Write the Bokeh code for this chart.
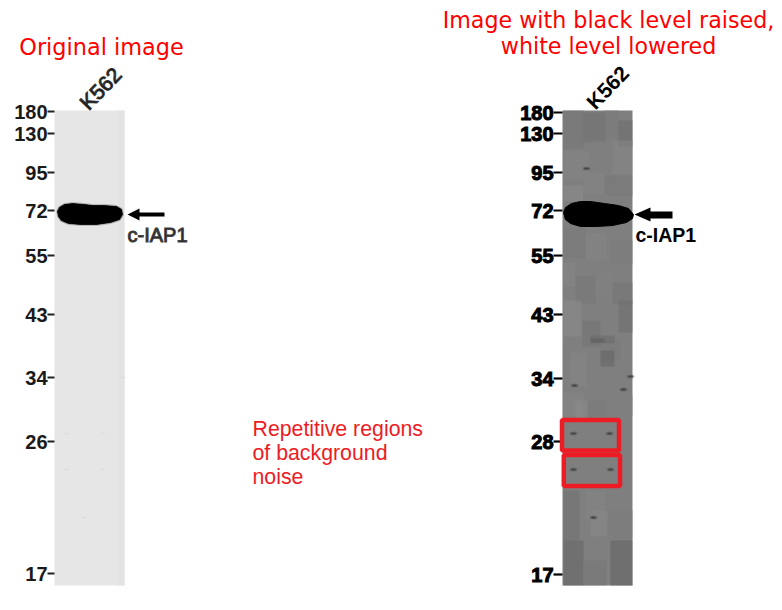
from bokeh.plotting import figure
from bokeh.models import Range1d
from bokeh.core.properties import value
from bokeh.embed import file_html
from bokeh.resources import INLINE

# ---- chart content -------------------------------------------------------
left_labels = ["180", "130", "95", "72", "55", "43", "34", "26", "17"]
left_mw_y = [111, 133, 172, 210, 255, 314, 377, 441, 573]
right_labels = ["180", "130", "95", "72", "55", "43", "34", "28", "17"]
right_mw_y = [112, 133, 172, 210, 255, 314, 378, 441, 574]
lane_name = "K562"
band_name = "c-IAP1"

left_band_x = [57, 59, 64, 72, 84, 92, 104, 116, 121, 122, 119, 110, 96, 80, 68, 61, 58]
left_band_y = [211, 207, 204, 203, 204, 205, 205, 206, 209, 214, 219, 222, 224, 224, 223, 220, 216]
right_band_x = [563, 565, 571, 580, 590, 604, 618, 628, 633, 632, 626, 612, 596, 580, 570, 565]
right_band_y = [212, 207, 203, 201, 201, 203, 205, 208, 214, 218, 222, 225, 226, 226, 223, 219]

# background noise of the enhanced lane: x, y, w, h, grey
noise_x = [563, 583, 604, 618, 563, 590, 612, 563, 583, 604, 563, 585, 610, 563, 575, 595, 612,
           563, 582, 600, 618, 570, 590, 563, 582, 607, 590, 600, 575, 585, 563, 590, 607, 563, 582, 610]
noise_y = [110, 112, 110, 120, 150, 140, 140, 185, 172, 175, 228, 232, 240, 262, 275, 270, 282,
           300, 320, 340, 300, 352, 335, 392, 400, 395, 338, 350, 400, 490, 490, 510, 510, 540, 560, 540]
noise_w = [20, 22, 14, 14, 26, 18, 20, 20, 22, 28, 22, 22, 22, 12, 20, 18, 20,
           18, 18, 20, 14, 16, 24, 20, 24, 25, 14, 14, 12, 20, 16, 18, 25, 20, 24, 22]
noise_h = [38, 30, 28, 26, 30, 40, 34, 16, 22, 20, 30, 28, 24, 24, 28, 24, 22,
           36, 26, 20, 32, 34, 8, 24, 18, 20, 4, 16, 18, 30, 50, 26, 28, 45, 25, 45]
noise_c = ["#767676", "#6f6f6f", "#7a7a7a", "#6c6c6c", "#848484", "#7e7e7e", "#868686",
           "#8a8a8a", "#848484", "#787878", "#797979", "#838383", "#7c7c7c", "#868686",
           "#777777", "#808080", "#747474", "#8b8b8b", "#737373", "#7a7a7a", "#6e6e6e",
           "#858585", "#6a6a6a", "#858585", "#7a7a7a", "#7f7f7f", "#5e5e5e", "#666666",
           "#8c8c8c", "#838383", "#727272", "#878787", "#7b7b7b", "#666666", "#777777", "#646464"]
speck_x = [573, 609, 573, 610, 593, 630, 623, 574, 586]
speck_y = [433, 433, 469, 469, 517, 376, 389, 385, 168]
faint_x = [66, 102, 66, 102, 84, 122]
faint_y = [433, 433, 469, 469, 517, 377]

# ---- page ----------------------------------------------------------------
p = figure(width=780, height=606, output_backend="svg", toolbar_location=None,
           x_range=Range1d(0, 780), y_range=Range1d(606, 0),
           min_border=0, outline_line_color=None, background_fill_color="white")
p.axis.visible = False
p.grid.visible = False

MARK = value("Liberation Sans")

# left lane
p.quad(left=[54], right=[124], top=[110], bottom=[585], fill_color="#e6e6e6", line_color=None)
p.quad(left=[118], right=[124], top=[110], bottom=[585], fill_color="#e3e3e3", line_color=None)
p.ellipse(faint_x, faint_y, width=6, height=2, fill_color="#dedede", line_color=None)
p.patch(left_band_x, left_band_y, fill_color="#000000", line_color="#000000", line_alpha=0.2, line_width=3)
p.patch(left_band_x, left_band_y, fill_color="#000000", line_color="#000000", line_alpha=0.6, line_width=1.2)

# right lane
p.quad(left=[562], right=[632], top=[110], bottom=[585], fill_color="#7f7f7f", line_color=None)
p.quad(left=noise_x, right=[a + b for a, b in zip(noise_x, noise_w)],
       top=noise_y, bottom=[a + b for a, b in zip(noise_y, noise_h)],
       fill_color=noise_c, fill_alpha=0.6, line_color=None)
p.ellipse(speck_x, speck_y, width=8, height=4, fill_color="#4c4c4c", fill_alpha=0.4, line_color=None)
p.ellipse(speck_x, speck_y, width=5, height=2, fill_color="#444444", line_color=None)
p.patch(right_band_x, right_band_y, fill_color="#000000", line_color="#000000", line_width=1)

# molecular weight ticks
p.segment(x0=[47] * 9, x1=[54] * 9, y0=left_mw_y, y1=left_mw_y, line_color="#222222", line_width=1.8)
p.segment(x0=[553] * 9, x1=[562] * 9, y0=right_mw_y, y1=right_mw_y, line_color="#000000", line_width=2.2)
p.text([47] * 9, left_mw_y, text=left_labels, text_font=MARK, text_font_size="20px", text_font_style="bold",
       text_color="#1a1a1a", text_align="right", text_baseline="middle")
p.text([553] * 9, right_mw_y, text=right_labels, text_font=MARK, text_font_size="20px", text_font_style="bold",
       text_color="#000000", text_align="right", text_baseline="middle",
       outline_color="#000000")

# lane names
p.text([100], [88], text=[lane_name], text_font=MARK, text_font_size="21px", text_color="#111111",
       angle=0.8, text_align="center", text_baseline="middle", outline_color="#333333")
p.text([607], [87], text=[lane_name], text_font=MARK, text_font_size="21px", text_font_style="bold",
       text_color="#000000", angle=0.8, text_align="center", text_baseline="middle")

# arrows
p.patch([127, 139, 139, 164, 164, 139, 139], [214, 208, 212, 212, 216, 216, 220], fill_color="#000000", line_color=None)
p.patch([634, 650, 650, 672, 672, 650, 650], [214, 207, 211, 211, 218, 218, 221], fill_color="#000000", line_color=None)

# band names
p.text([127], [234], text=[band_name], text_font=MARK, text_font_size="20px", text_color="#1a1a1a",
       text_align="left", text_baseline="middle", outline_color="#444444")
p.text([635], [234], text=[band_name], text_font=MARK, text_font_size="19.5px", text_font_style="bold",
       text_color="#000000", text_align="left", text_baseline="middle")

# red boxes
p.quad(left=[561.5, 563.3], right=[618.5, 619.5], top=[419.5, 454.5], bottom=[450, 485.5],
       fill_color=None, line_color="#ed1c24", line_width=4.5)

# annotation texts
TITLE = value("DejaVu Sans")
p.text([101], [46], text=["Original image"], text_font=TITLE, text_font_size="22.4px", text_color="#ff0000",
       text_align="center", text_baseline="middle")
p.text([608, 608], [19, 45], text=["Image with black level raised,", "white level lowered"], text_font=TITLE,
       text_font_size="22.2px", text_color="#ff0000", text_align="center", text_baseline="middle")
p.text([252, 252, 252], [428, 452, 476], text=["Repetitive regions", "of background", "noise"],
       text_font=MARK, text_font_size="21.3px", text_color="#ed1c24", text_align="left", text_baseline="middle")

open("out.html", "w").write(file_html(p, INLINE))
